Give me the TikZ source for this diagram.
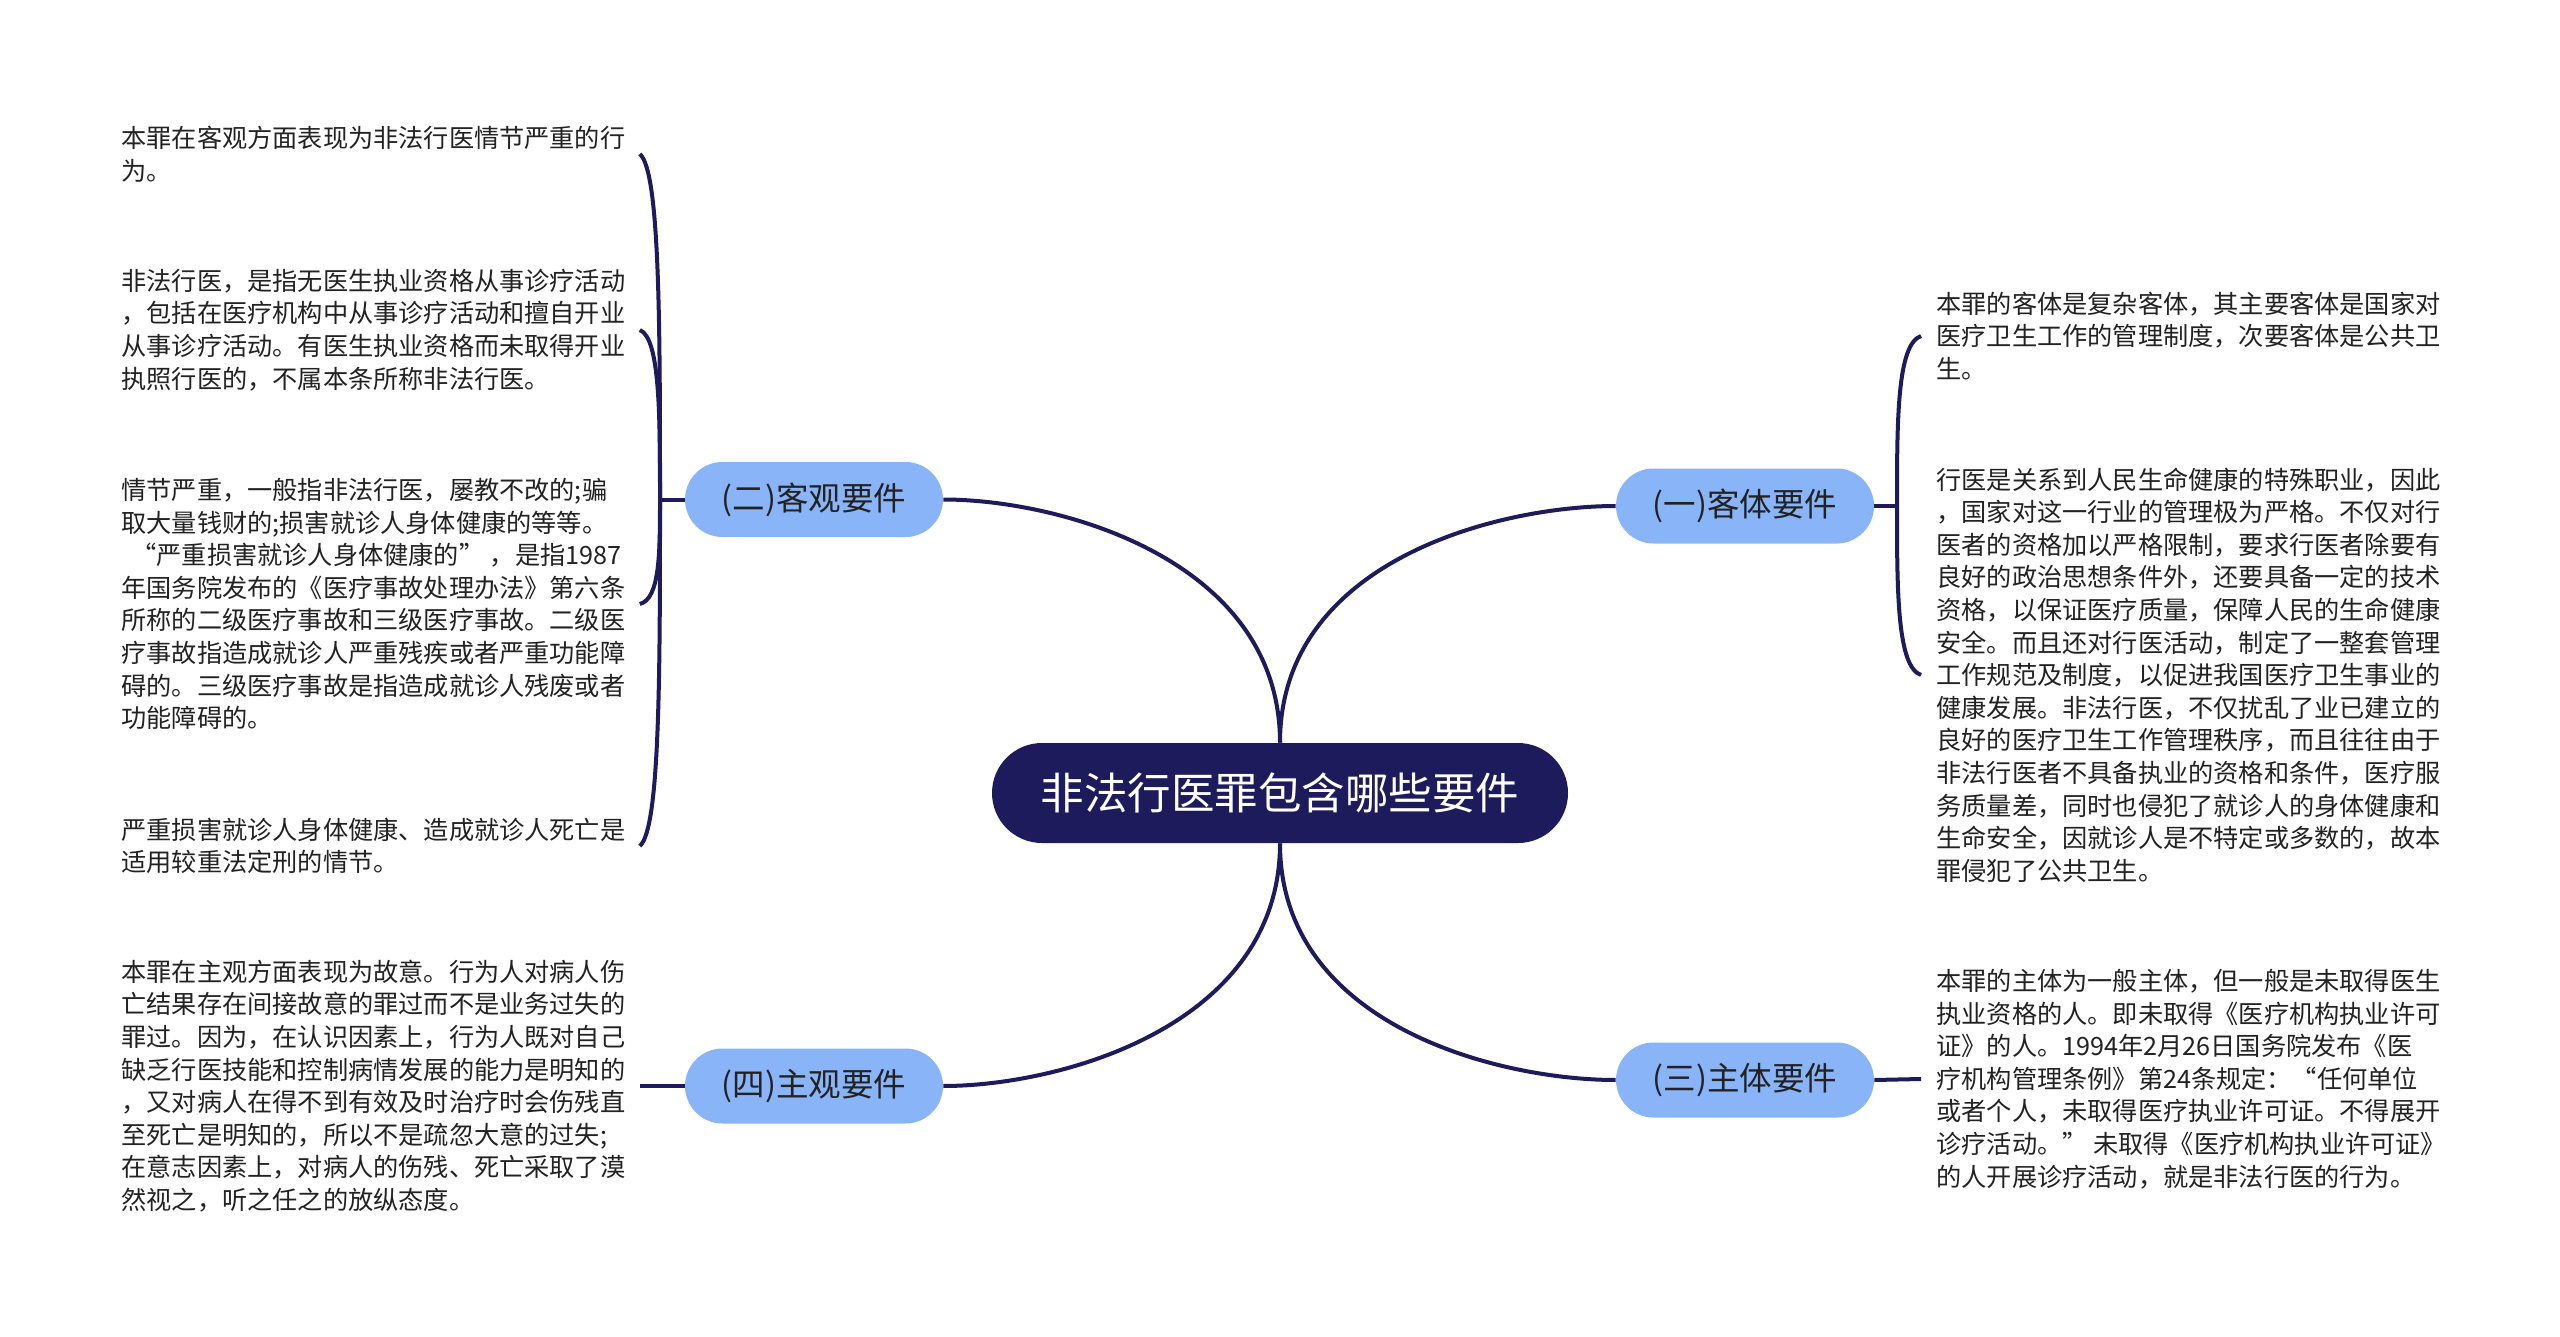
\documentclass[tikz,border=0pt]{standalone}
\usepackage{fontspec}
\newfontfamily\cjk{Noto Sans CJK SC}
\definecolor{navy}{HTML}{1E1B5C}
\definecolor{subblue}{HTML}{8AB4F8}
\definecolor{txt}{HTML}{222222}
\begin{document}
\begin{tikzpicture}[x=0.5pt,y=-0.5pt,
  rootnode/.style={fill=navy, rounded corners=25pt, minimum width=288pt, minimum height=50pt, inner sep=0pt, text=white, font=\cjk\fontsize{21.75}{26}\selectfont},
  topicnode/.style={fill=subblue, rounded corners=18.75pt, minimum width=129pt, minimum height=37.5pt, inner sep=0pt, text=txt, font=\cjk\fontsize{16.25}{20}\selectfont},
  leafnode/.style={align=left, inner xsep=7pt, inner ysep=0pt, text=txt, font=\cjk\fontsize{12.6}{16.3}\selectfont},
  link/.style={draw=navy, line width=2pt}
]
\fill[white] (0,0) rectangle (2560,1337);
\useasboundingbox (0,0) rectangle (2560,1337);

\node[rootnode] (c) at (1280,793) {非法行医罪包含哪些要件};
\node[topicnode] (k2) at (814,499.5) {(二)客观要件};
\node[topicnode] (k1) at (1745,506) {(一)客体要件};
\node[topicnode] (k4) at (814,1086) {(四)主观要件};
\node[topicnode] (k3) at (1745,1080) {(三)主体要件};

\node[leafnode, anchor=west] (a1) at (107,154) {本罪在客观方面表现为非法行医情节严重的行\\为。};
\node[leafnode, anchor=west] (a2) at (107,330) {非法行医，是指无医生执业资格从事诊疗活动\\，包括在医疗机构中从事诊疗活动和擅自开业\\从事诊疗活动。有医生执业资格而未取得开业\\执照行医的，不属本条所称非法行医。};
\node[leafnode, anchor=west] (a3) at (107,604) {情节严重，一般指非法行医，屡教不改的;骗\\取大量钱财的;损害就诊人身体健康的等等。\\\hspace*{0.4em}“严重损害就诊人身体健康的” ，是指1987\\年国务院发布的《医疗事故处理办法》第六条\\所称的二级医疗事故和三级医疗事故。二级医\\疗事故指造成就诊人严重残疾或者严重功能障\\碍的。三级医疗事故是指造成就诊人残废或者\\功能障碍的。};
\node[leafnode, anchor=west] (a4) at (107,846) {严重损害就诊人身体健康、造成就诊人死亡是\\适用较重法定刑的情节。};
\node[leafnode, anchor=west] (a5) at (107,1086) {本罪在主观方面表现为故意。行为人对病人伤\\亡结果存在间接故意的罪过而不是业务过失的\\罪过。因为，在认识因素上，行为人既对自己\\缺乏行医技能和控制病情发展的能力是明知的\\，又对病人在得不到有效及时治疗时会伤残直\\至死亡是明知的，所以不是疏忽大意的过失;\\在意志因素上，对病人的伤残、死亡采取了漠\\然视之，听之任之的放纵态度。};

\node[leafnode, anchor=west, inner xsep=7.5pt] (b1) at (1921,336) {本罪的客体是复杂客体，其主要客体是国家对\\医疗卫生工作的管理制度，次要客体是公共卫\\生。};
\node[leafnode, anchor=west, inner xsep=7.5pt] (b2) at (1921,675) {行医是关系到人民生命健康的特殊职业，因此\\，国家对这一行业的管理极为严格。不仅对行\\医者的资格加以严格限制，要求行医者除要有\\良好的政治思想条件外，还要具备一定的技术\\资格，以保证医疗质量，保障人民的生命健康\\安全。而且还对行医活动，制定了一整套管理\\工作规范及制度，以促进我国医疗卫生事业的\\健康发展。非法行医，不仅扰乱了业已建立的\\良好的医疗卫生工作管理秩序，而且往往由于\\非法行医者不具备执业的资格和条件，医疗服\\务质量差，同时也侵犯了就诊人的身体健康和\\生命安全，因就诊人是不特定或多数的，故本\\罪侵犯了公共卫生。};
\node[leafnode, anchor=west, inner xsep=7.5pt] (b3) at (1921,1079) {本罪的主体为一般主体，但一般是未取得医生\\执业资格的人。即未取得《医疗机构执业许可\\证》的人。1994年2月26日国务院发布《医\\疗机构管理条例》第24条规定：“任何单位\\或者个人，未取得医疗执业许可证。不得展开\\诊疗活动。” 未取得《医疗机构执业许可证》\\的人开展诊疗活动，就是非法行医的行为。};

\draw[link] (c.north) .. controls (1280,560) and (1060,499.5) .. (k2.east);
\draw[link] (c.north) .. controls (1280,560) and (1500,506) .. (k1.west);
\draw[link] (c.south) .. controls (1280,1026) and (1060,1086) .. (k4.east);
\draw[link] (c.south) .. controls (1280,1026) and (1500,1080) .. (k3.west);

\coordinate (j2) at (660,499.5);
\draw[link] (k2.west) -- (j2);
\draw[link] (j2) .. controls (660,327) and (660,171) .. (a1.east);
\draw[link] (j2) .. controls (660,415) and (660,338) .. (a2.east);
\draw[link] (j2) .. controls (660,552) and (660,599) .. (a3.east);
\draw[link] (j2) .. controls (660,673) and (660,829) .. (a4.east);
\draw[link] (k4.west) -- (a5.east);

\coordinate (j1) at (1897,506);
\draw[link] (k1.east) -- (j1);
\draw[link] (j1) .. controls (1897,421) and (1897,344) .. (b1.west);
\draw[link] (j1) .. controls (1897,590) and (1897,667) .. (b2.west);
\draw[link] (k3.east) -- (b3.west);
\end{tikzpicture}
\end{document}
